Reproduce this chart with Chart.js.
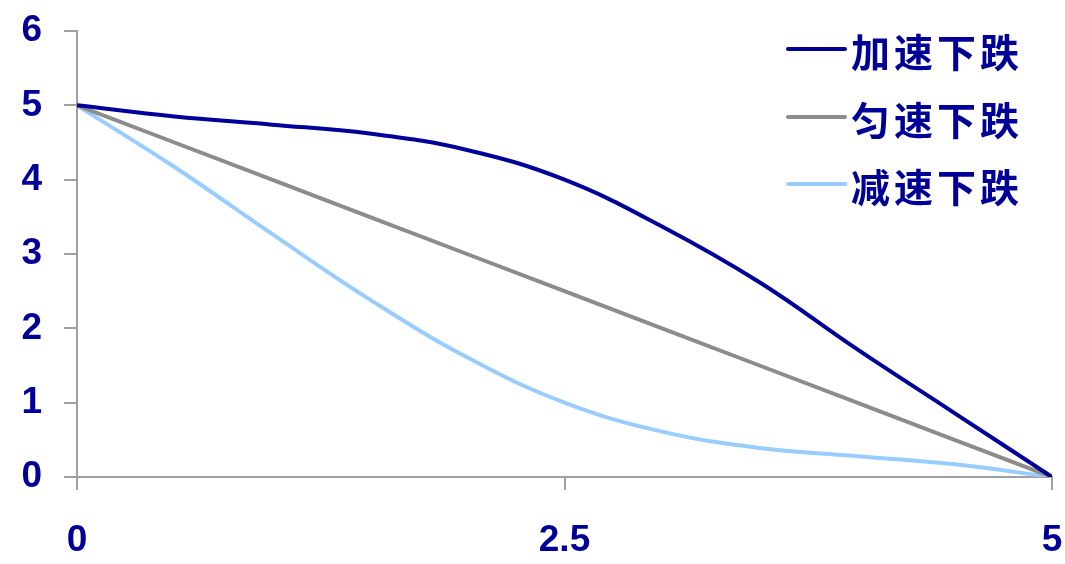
<!DOCTYPE html>
<html>
<head>
<meta charset="utf-8">
<script src="https://cdn.jsdelivr.net/npm/chart.js@4.4.1/dist/chart.umd.min.js"></script>
<style>
    html, body { margin: 0; padding: 0; background: #ffffff; }
    #wrap { width: 1065px; height: 564px; position: relative; }
</style>
</head>
<body>
<div id="wrap"><canvas id="dropChart" width="1065" height="564"></canvas></div>
<script>
const xValues = [0, 0.5, 1, 1.5, 2, 2.5, 3, 3.5, 4, 4.5, 5];
const accelDrop = [5, 4.85, 4.74, 4.62, 4.40, 4.0, 3.37, 2.62, 1.72, 0.86, 0];
const evenDrop = [5, 4.5, 4, 3.5, 3, 2.5, 2, 1.5, 1, 0.5, 0];
const slowDrop = [5, 4.17, 3.27, 2.39, 1.61, 1.0, 0.61, 0.39, 0.28, 0.17, 0];
const seriesNames = ['加速下跌', '匀速下跌', '减速下跌'];
const xTicks = [0, 2.5, 5];

const navy = '#000099';

function toPoints(values) {
    return values.map(function(v, i) { return { x: xValues[i], y: v }; });
}

// legend drawn in the top right corner of the plot
const cornerLegend = {
    id: 'cornerLegend',
    afterDraw: function(chart) {
        const ctx = chart.ctx;
        const rows = [49, 117, 184];
        ctx.save();
        chart.data.datasets.forEach(function(ds, i) {
            ctx.strokeStyle = ds.borderColor;
            ctx.lineWidth = 4;
            ctx.lineCap = 'round';
            ctx.beginPath();
            ctx.moveTo(788, rows[i]);
            ctx.lineTo(845, rows[i]);
            ctx.stroke();
            ctx.fillStyle = navy;
            ctx.font = 'bold 39px "Noto Sans CJK SC"';
            ctx.textBaseline = 'middle';
            ctx.letterSpacing = '4px';
            ctx.fillText(ds.label, 851, rows[i] + 3);
        });
        ctx.restore();
    }
};

function noEdgePadding(scale) {
    scale.paddingLeft = 0;
    scale.paddingRight = 0;
    scale.paddingTop = 0;
    scale.paddingBottom = 0;
}

const ctx = document.getElementById('dropChart').getContext('2d');
new Chart(ctx, {
    type: 'line',
    data: {
        datasets: [{
            label: seriesNames[0],
            data: toPoints(accelDrop),
            borderColor: '#000099',
            borderWidth: 4,
            pointRadius: 0,
            tension: 0.4
        }, {
            label: seriesNames[1],
            data: toPoints(evenDrop),
            borderColor: '#8c8c8c',
            borderWidth: 4,
            pointRadius: 0,
            tension: 0
        }, {
            label: seriesNames[2],
            data: toPoints(slowDrop),
            borderColor: '#99ccff',
            borderWidth: 4,
            pointRadius: 0,
            tension: 0.4
        }]
    },
    options: {
        responsive: false,
        animation: false,
        layout: { padding: { top: 31, right: 13, left: 0, bottom: 0 } },
        plugins: {
            legend: { display: false },
            tooltip: { enabled: false }
        },
        scales: {
            x: {
                type: 'linear',
                min: 0,
                max: 5,
                afterBuildTicks: function(scale) {
                    scale.ticks = xTicks.map(function(v) { return { value: v }; });
                },
                afterFit: function(scale) {
                    scale.height = 87;
                    noEdgePadding(scale);
                },
                grid: { drawOnChartArea: false, drawTicks: true, tickLength: 13, color: '#a0a0a0', lineWidth: 2 },
                border: { color: '#a0a0a0', width: 2 },
                ticks: {
                    color: navy,
                    padding: 29,
                    maxRotation: 0,
                    font: { family: '"Liberation Sans", Arial, sans-serif', size: 37, weight: 'bold' },
                    callback: function(v) { return String(v); }
                }
            },
            y: {
                min: 0,
                max: 6,
                afterFit: function(scale) {
                    scale.width = 77;
                    noEdgePadding(scale);
                },
                grid: { drawOnChartArea: false, drawTicks: true, tickLength: 13, color: '#a0a0a0', lineWidth: 2 },
                border: { color: '#a0a0a0', width: 2 },
                ticks: {
                    stepSize: 1,
                    color: navy,
                    padding: 22,
                    font: { family: '"Liberation Sans", Arial, sans-serif', size: 37, weight: 'bold' }
                }
            }
        }
    },
    plugins: [cornerLegend]
});
</script>
</body>
</html>
